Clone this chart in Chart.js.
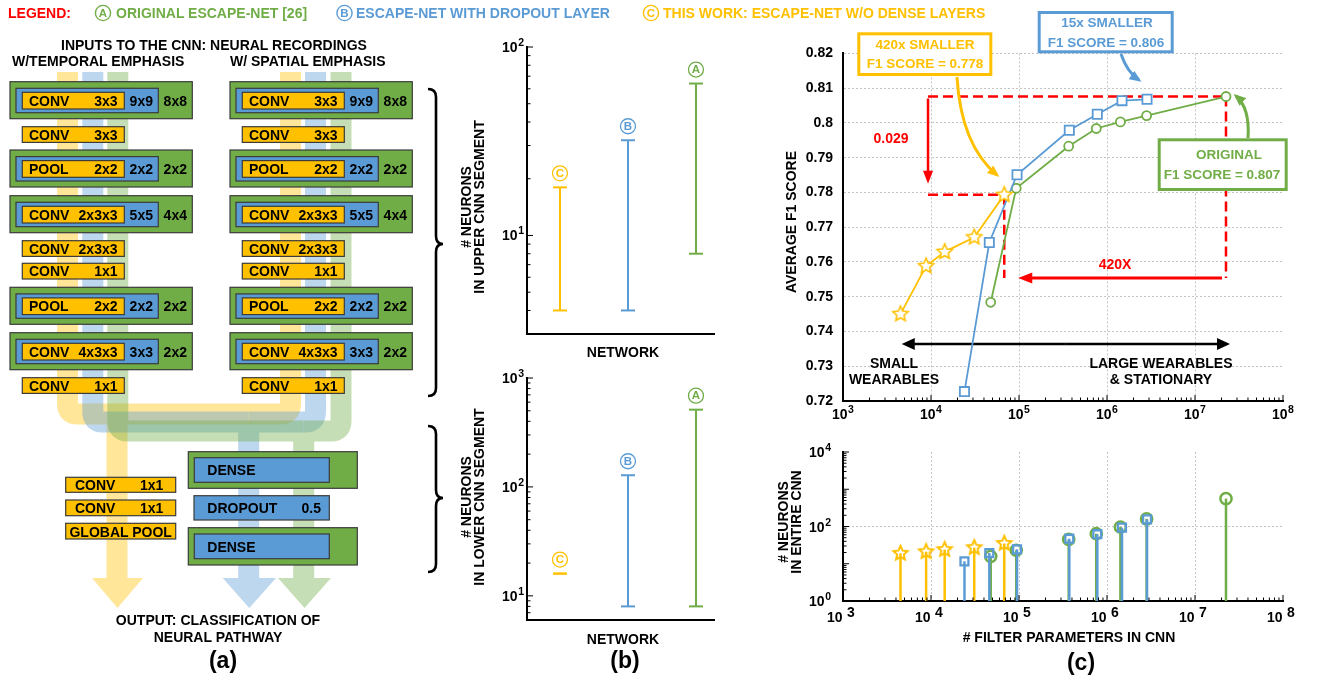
<!DOCTYPE html>
<html><head><meta charset="utf-8">
<script src="https://cdn.jsdelivr.net/npm/chart.js@4.4.0/dist/chart.umd.min.js"></script>
<style>
html,body{margin:0;padding:0;background:#fff;}
#wrap{position:relative;width:1333px;height:677px;overflow:hidden;background:#fff;}
.cv{position:absolute;}
#ov{position:absolute;left:0;top:0;pointer-events:none;}
</style></head>
<body><div id="wrap">
<canvas id="cUpper" class="cv" width="230" height="308" style="left:496px;top:36px"></canvas>
<canvas id="cLower" class="cv" width="230" height="262" style="left:496px;top:368px"></canvas>
<canvas id="cF1" class="cv" width="520" height="400" style="left:793px;top:35px"></canvas>
<canvas id="cNeu" class="cv" width="520" height="195" style="left:793px;top:440px"></canvas>
<svg id="ov" width="1333" height="677" xmlns="http://www.w3.org/2000/svg" font-family="'Liberation Sans', Arial, sans-serif"></svg>
</div>
<script>
// ---------------- DATA ----------------
// Panel (b): networks ordered C (this work), B (dropout), A (original)
const networks = ['C', 'B', 'A'];
const upperMin = [4, 4, 8];
const upperMax = [18, 32, 64];
const lowerMin = [16, 8, 8];
const lowerMax = [16, 128, 512];
const upperTickValues = [10, 100];
const upperTickExp = ['1', '2'];
const lowerTickValues = [10, 100, 1000];
const lowerTickExp = ['1', '2', '3'];

// Panel (c): filter parameters, average F1 score, neurons in entire CNN
const paramsThisWork = [4500, 8800, 14300, 31000, 68000];
const f1ThisWork     = [0.745, 0.7588, 0.7629, 0.7671, 0.7793];
const neuThisWork    = [19, 21, 24, 27, 35];
const paramsDropout  = [24000, 46000, 95000, 373000, 776000, 1480000, 2850000];
const f1Dropout      = [0.7227, 0.7656, 0.7851, 0.7979, 0.8025, 0.8064, 0.8068];
const neuDropout     = [11.6, 19.4, 24.4, 47, 62, 93, 155];
const paramsOriginal = [47700, 93000, 367000, 755000, 1420000, 2820000, 22500000];
const f1Original     = [0.7484, 0.7812, 0.7933, 0.7984, 0.8003, 0.8021, 0.8076];
const neuOriginal    = [15.8, 23, 45, 64, 97, 160, 560];

const xTickValues = [1e3, 1e4, 1e5, 1e6, 1e7, 1e8];
const xTickExp = ['3', '4', '5', '6', '7', '8'];
const yTickValuesNeu = [1, 100, 10000];
const yTickExpNeu = ['0', '2', '4'];

// annotation anchors (data space)
const annotDeltaX = 9250;
const annotArrowY = 0.7554;
const annotArrowTipX = 98000;
const rangeArrowY = 0.7364;
const rangeArrowX = [4650, 25000000];

// ---------------- STYLE ----------------
const YEL = '#FFC000', BLU = '#5B9BD5', GRN = '#70AD47', RED = '#FF0000';
const netColors = [YEL, BLU, GRN];
const FONT = "'Liberation Sans', Arial, sans-serif";
Chart.defaults.font.family = FONT;
Chart.defaults.color = '#000';

function starImage(R, lw, fill) {
  const s = Math.ceil(2 * R + 2 * lw + 2);
  const c = document.createElement('canvas'); c.width = s; c.height = s;
  const g = c.getContext('2d');
  g.translate(s / 2, s / 2);
  g.beginPath();
  for (let k = 0; k < 10; k++) {
    const r = k % 2 === 0 ? R : R * 0.47;
    const a = -Math.PI / 2 + k * Math.PI / 5;
    const px = r * Math.cos(a), py = r * Math.sin(a);
    if (k === 0) g.moveTo(px, py); else g.lineTo(px, py);
  }
  g.closePath();
  if (fill) { g.fillStyle = fill; g.fill(); }
  g.strokeStyle = YEL; g.lineWidth = lw; g.stroke();
  return c;
}

// minor / major log ticks drawn inside the plot
const logTicks = {
  id: 'logTicks',
  afterDraw(chart, args, opts) {
    const {ctx, chartArea: a} = chart;
    ctx.save(); ctx.strokeStyle = '#000'; ctx.lineWidth = 1;
    for (const id of (opts.axes || [])) {
      const s = chart.scales[id];
      const d0 = Math.floor(Math.log10(s.min)), d1 = Math.ceil(Math.log10(s.max));
      for (let d = d0; d <= d1; d++) for (let m = 1; m <= 9; m++) {
        const v = m * Math.pow(10, d);
        if (v < s.min * 0.999 || v > s.max * 1.001) continue;
        const p = s.getPixelForValue(v);
        const len = m === 1 ? 6 : 3.5;
        ctx.beginPath();
        if (s.isHorizontal()) { ctx.moveTo(p, a.bottom); ctx.lineTo(p, a.bottom - len); }
        else { ctx.moveTo(a.left, p); ctx.lineTo(a.left + len, p); }
        ctx.stroke();
      }
    }
    ctx.restore();
  }
};

// power-of-ten tick labels ("10" + raised exponent) placed through the scales
const expLabels = {
  id: 'expLabels',
  afterDraw(chart, args, opts) {
    const {ctx, chartArea: a} = chart;
    ctx.save(); ctx.fillStyle = '#000'; ctx.textBaseline = 'alphabetic'; ctx.textAlign = 'left';
    for (const ax of opts.axes) {
      const s = chart.scales[ax.id];
      ax.values.forEach((v, i) => {
        const exp = ax.exps[i];
        ctx.font = `bold 14px ${FONT}`; const wb = ctx.measureText('10').width;
        ctx.font = `bold ${ax.expSize}px ${FONT}`; const we = ctx.measureText(exp).width;
        const total = wb + ax.gap + we;
        const p = s.getPixelForValue(v);
        let x0, yb;
        if (s.isHorizontal()) { x0 = p - (ax.anchor != null ? ax.anchor : total / 2); yb = a.bottom + ax.offset; }
        else { x0 = a.left - ax.pad - total; yb = p + 5; }
        ctx.font = `bold 14px ${FONT}`; ctx.fillText('10', x0, yb);
        ctx.font = `bold ${ax.expSize}px ${FONT}`; ctx.fillText(exp, x0 + wb + ax.gap, yb - ax.raise);
      });
    }
    ctx.restore();
  }
};

// caps + circled letters on the range bars of panel (b)
const rangeCaps = {
  id: 'rangeCaps',
  afterDatasetsDraw(chart) {
    const {ctx} = chart;
    chart.data.datasets.forEach((ds, i) => {
      const meta = chart.getDatasetMeta(i);
      ctx.save();
      ctx.strokeStyle = ds.borderColor; ctx.lineWidth = 2;
      let top = Infinity;
      meta.data.forEach(pt => {
        ctx.beginPath(); ctx.moveTo(pt.x - 7, pt.y); ctx.lineTo(pt.x + 7, pt.y); ctx.stroke();
        top = Math.min(top, pt.y);
      });
      const cx = meta.data[0].x, cy = top - 14;
      ctx.lineWidth = 1.3;
      ctx.beginPath(); ctx.arc(cx, cy, 7.5, 0, Math.PI * 2); ctx.stroke();
      ctx.fillStyle = ds.borderColor;
      ctx.font = `bold 11.5px ${FONT}`; ctx.textAlign = 'center'; ctx.textBaseline = 'middle';
      ctx.fillText(ds.label, cx, cy + 0.5);
      ctx.restore();
    });
  }
};

function rangeChart(id, mins, maxs, ymin, ymax, tv, te, padTop) {
  new Chart(document.getElementById(id), {
    type: 'scatter',
    data: {
      datasets: networks.map((n, i) => ({
        label: n,
        data: [{x: i + 1, y: mins[i]}, {x: i + 1, y: maxs[i]}],
        showLine: true, borderColor: netColors[i], borderWidth: 2, pointRadius: 0
      }))
    },
    options: {
      responsive: false, animation: false,
      layout: {padding: {top: padTop, right: 12, left: 0, bottom: 0}},
      plugins: {legend: {display: false}, tooltip: {enabled: false}, logTicks: {axes: ['y']},
        expLabels: {axes: [{id: 'y', values: tv, exps: te, expSize: 10.5, gap: 0.5, raise: 6, pad: 3}]}},
      scales: {
        x: {type: 'linear', min: 0.515, max: 3.265, ticks: {display: false}, grid: {display: false},
            border: {color: '#000', width: 2}, afterFit: s => { s.height = 10; }},
        y: {type: 'logarithmic', min: ymin, max: ymax,
            afterBuildTicks: s => { s.ticks = tv.map(v => ({value: v})); },
            ticks: {display: false},
            grid: {display: false, drawTicks: false}, border: {color: '#000', width: 2},
            afterFit: s => { s.width = 31; }}
      }
    },
    plugins: [logTicks, rangeCaps, expLabels]
  });
}
rangeChart('cUpper', upperMin, upperMax, 3, 100, upperTickValues, upperTickExp, 11);
rangeChart('cLower', lowerMin, lowerMax, 6, 1000, lowerTickValues, lowerTickExp, 10);

// ---------- panel (c) top ----------
function arrow(ctx, x1, y1, x2, y2, color, lw, hl, hw) {
  const dx = x2 - x1, dy = y2 - y1, L = Math.hypot(dx, dy), ux = dx / L, uy = dy / L;
  ctx.strokeStyle = color; ctx.fillStyle = color; ctx.lineWidth = lw;
  ctx.beginPath(); ctx.moveTo(x1, y1); ctx.lineTo(x2 - ux * hl * 0.8, y2 - uy * hl * 0.8); ctx.stroke();
  ctx.beginPath(); ctx.moveTo(x2, y2);
  ctx.lineTo(x2 - ux * hl - uy * hw, y2 - uy * hl + ux * hw);
  ctx.lineTo(x2 - ux * hl + uy * hw, y2 - uy * hl - ux * hw);
  ctx.closePath(); ctx.fill();
}
const f1Annot = {
  id: 'f1Annot',
  beforeDatasetsDraw(chart) {
    const {ctx, scales: {x, y}} = chart;
    const n = paramsOriginal.length - 1, m = paramsThisWork.length - 1;
    const xo = x.getPixelForValue(paramsOriginal[n]), yo = y.getPixelForValue(f1Original[n]);
    const xt = x.getPixelForValue(paramsThisWork[m]), yt = y.getPixelForValue(f1ThisWork[m]);
    const xl = x.getPixelForValue(annotDeltaX), ya = y.getPixelForValue(annotArrowY);
    ctx.save();
    ctx.strokeStyle = RED; ctx.lineWidth = 2.5; ctx.setLineDash([10, 5]);
    const ln = (a, b, c, d) => { ctx.beginPath(); ctx.moveTo(a, b); ctx.lineTo(c, d); ctx.stroke(); };
    ln(xl, yo, xo, yo); ln(xo, yo, xo, ya); ln(xl, yt, xt, yt); ln(xt, yt, xt, ya);
    ctx.setLineDash([]);
    arrow(ctx, xl, yo + 2, xl, yt - 11, RED, 2.5, 13, 5);
    arrow(ctx, xo - 4, ya, x.getPixelForValue(annotArrowTipX), ya, RED, 3, 14, 5.5);
    const yb = y.getPixelForValue(rangeArrowY);
    const xa = x.getPixelForValue(rangeArrowX[0]), xb = x.getPixelForValue(rangeArrowX[1]);
    const mid = (xa + xb) / 2;
    arrow(ctx, mid, yb, xa, yb, '#000', 2.5, 13, 6);
    arrow(ctx, mid, yb, xb, yb, '#000', 2.5, 13, 6);
    ctx.restore();
  }
};
const pts = (xs, ys) => xs.map((v, i) => ({x: v, y: ys[i]}));
const logX = () => ({
  type: 'logarithmic', min: 1e3, max: 1e8,
  afterBuildTicks: s => { s.ticks = xTickValues.map(v => ({value: v})); },
  ticks: {display: false},
  grid: {color: c => (c.index > 0 && c.index < 5) ? '#c4c4c4' : 'rgba(0,0,0,0)', drawTicks: false, lineWidth: 1},
  border: {color: '#000', width: 2, dash: [2, 2]},
  afterFit: s => { s.height = 34; }
});
new Chart(document.getElementById('cF1'), {
  type: 'line',
  data: {datasets: [
    {label: 'This work', data: pts(paramsThisWork, f1ThisWork), borderColor: YEL, borderWidth: 1.8,
     pointStyle: starImage(8, 1.6, '#fff'), pointRadius: 8},
    {label: 'Dropout', data: pts(paramsDropout, f1Dropout), borderColor: BLU, borderWidth: 1.8,
     pointStyle: 'rect', pointRadius: 6.5, pointBorderWidth: 1.8, pointBackgroundColor: '#fff', pointBorderColor: BLU},
    {label: 'Original', data: pts(paramsOriginal, f1Original), borderColor: GRN, borderWidth: 1.8,
     pointStyle: 'circle', pointRadius: 4.5, pointBorderWidth: 1.8, pointBackgroundColor: '#fff', pointBorderColor: GRN}
  ]},
  options: {
    responsive: false, animation: false,
    layout: {padding: {top: 10, right: 30, left: 0, bottom: 0}},
    plugins: {legend: {display: false}, tooltip: {enabled: false}, logTicks: {axes: ['x']},
      expLabels: {axes: [{id: 'x', values: xTickValues, exps: xTickExp, expSize: 10.5, gap: 0.5, raise: 6, offset: 18}]}},
    scales: {
      x: logX(),
      y: {min: 0.72, max: 0.82,
          ticks: {stepSize: 0.01, callback: v => String(+v.toFixed(2)), padding: 10, font: {family: FONT, size: 14, weight: 'bold'}},
          grid: {color: c => c.index > 0 ? '#c4c4c4' : 'rgba(0,0,0,0)', drawTicks: false, lineWidth: 1},
          border: {color: '#000', width: 2, dash: [2, 2]},
          afterFit: s => { s.width = 50; }}
    }
  },
  plugins: [logTicks, f1Annot, expLabels]
});

// ---------- panel (c) bottom ----------
const stems = {
  id: 'stems',
  beforeDatasetDraw(chart, args) {
    const {ctx, chartArea: a} = chart;
    const ds = chart.data.datasets[args.index];
    ctx.save(); ctx.strokeStyle = ds.borderColor; ctx.lineWidth = 2.5;
    args.meta.data.forEach(pt => { ctx.beginPath(); ctx.moveTo(pt.x, a.bottom); ctx.lineTo(pt.x, pt.y); ctx.stroke(); });
    ctx.restore();
  }
};
new Chart(document.getElementById('cNeu'), {
  type: 'scatter',
  data: {datasets: [
    {label: 'This work', data: pts(paramsThisWork, neuThisWork), borderColor: YEL,
     pointStyle: starImage(7.5, 2, null), pointRadius: 8},
    {label: 'Dropout', data: pts(paramsDropout, neuDropout), borderColor: BLU,
     pointStyle: 'rect', pointRadius: 5.6, pointBorderWidth: 2.3, pointBackgroundColor: 'rgba(0,0,0,0)', pointBorderColor: BLU},
    {label: 'Original', data: pts(paramsOriginal, neuOriginal), borderColor: GRN,
     pointStyle: 'circle', pointRadius: 5.6, pointBorderWidth: 2.5, pointBackgroundColor: 'rgba(0,0,0,0)', pointBorderColor: GRN}
  ]},
  options: {
    responsive: false, animation: false,
    layout: {padding: {top: 12, right: 30, left: 0, bottom: 0}},
    plugins: {legend: {display: false}, tooltip: {enabled: false}, logTicks: {axes: ['x', 'y']},
      expLabels: {axes: [
        {id: 'x', values: xTickValues, exps: xTickExp, expSize: 14, gap: 4.5, raise: 5, offset: 21, anchor: 16},
        {id: 'y', values: yTickValuesNeu, exps: yTickExpNeu, expSize: 10.5, gap: 0.5, raise: 6, pad: 12}
      ]}},
    scales: {
      x: logX(),
      y: {type: 'logarithmic', min: 1, max: 10000,
          afterBuildTicks: s => { s.ticks = yTickValuesNeu.map(v => ({value: v})); },
          ticks: {display: false},
          grid: {color: c => c.index === 1 ? '#c4c4c4' : 'rgba(0,0,0,0)', drawTicks: false, lineWidth: 1},
          border: {color: '#000', width: 2, dash: [2, 2]},
          afterFit: s => { s.width = 50; }}
    }
  },
  plugins: [stems, logTicks, expLabels]
});

// ---------------- SVG overlay: diagram (a), legend, titles, annotations ----------------
let S = '';
const T = (x, y, txt, o = {}) => {
  S += `<text x="${x}" y="${y}" font-size="${o.size || 14}" fill="${o.fill || '#000'}" text-anchor="${o.anchor || 'start'}" font-weight="${o.weight || 'bold'}"${o.tr ? ` transform="${o.tr}"` : ''}>${txt}</text>`;
};
const R = (x, y, w, h, fill, stroke = '#3b3b3b', sw = 1.2) => {
  S += `<rect x="${x}" y="${y}" width="${w}" height="${h}" fill="${fill}" stroke="${stroke}" stroke-width="${sw}"/>`;
};
const circLetter = (cx, cy, L, col) => {
  S += `<circle cx="${cx}" cy="${cy}" r="7.6" fill="none" stroke="${col}" stroke-width="1.4"/>`;
  T(cx, cy + 4.2, L, {size: 11.5, fill: col, anchor: 'middle'});
};
S += `<defs>
<marker id="mY" markerWidth="12" markerHeight="10" refX="9" refY="5" orient="auto" markerUnits="userSpaceOnUse"><path d="M0,0 L12,5 L0,10 Z" fill="${YEL}"/></marker>
<marker id="mB" markerWidth="12" markerHeight="10" refX="9" refY="5" orient="auto" markerUnits="userSpaceOnUse"><path d="M0,0 L12,5 L0,10 Z" fill="${BLU}"/></marker>
<marker id="mG" markerWidth="12" markerHeight="10" refX="9" refY="5" orient="auto" markerUnits="userSpaceOnUse"><path d="M0,0 L12,5 L0,10 Z" fill="${GRN}"/></marker>
</defs>`;

// legend
T(8, 18, 'LEGEND:', {fill: RED});
circLetter(103, 13, 'A', GRN); T(116, 18, 'ORIGINAL ESCAPE-NET [26]', {fill: GRN});
circLetter(344.5, 13, 'B', BLU); T(356, 18, 'ESCAPE-NET WITH DROPOUT LAYER', {fill: BLU});
circLetter(651, 13, 'C', YEL); T(663, 18, 'THIS WORK: ESCAPE-NET W/O DENSE LAYERS', {fill: YEL});

// panel (a) headings
T(214, 50, 'INPUTS TO THE CNN: NEURAL RECORDINGS', {anchor: 'middle'});
T(12, 66, 'W/TEMPORAL EMPHASIS');
T(230, 66, 'W/ SPATIAL EMPHASIS');

// flow bands
const band = (col, paths, head) => {
  S += `<g opacity="0.4">`;
  paths.forEach(d => { S += `<path d="${d}" fill="none" stroke="${col}" stroke-width="21"/>`; });
  S += `<polygon points="${head}" fill="${col}"/></g>`;
};
band(YEL, ['M67.5,72 V404 Q67.5,414 77.5,414 H117', 'M290.5,72 V404 Q290.5,414 280.5,414 H117', 'M117,414 V579'],
     '92,578 143,578 117.5,608');
band(BLU, ['M92.8,72 V412 Q92.8,422 102.8,422 H248.7', 'M315.5,72 V412 Q315.5,422 305.5,422 H248.7', 'M248.7,422 V579'],
     '222.7,578 276,578 249.3,608');
band(GRN, ['M117.8,72 V421 Q117.8,431 127.8,431 H303.7', 'M341,72 V421 Q341,431 331,431 H303.7', 'M303.7,431 V579'],
     '278,578 331,578 304.5,608');

// CNN blocks
const tripleRows = [[81.7, 'CONV', '3x3', '9x9', '8x8'], [150, 'POOL', '2x2', '2x2', '2x2'],
  [195.7, 'CONV', '2x3x3', '5x5', '4x4'], [287.3, 'POOL', '2x2', '2x2', '2x2'], [332.7, 'CONV', '4x3x3', '3x3', '2x2']];
const singleRows = [[126.7, 'CONV', '3x3'], [240.7, 'CONV', '2x3x3'], [263.3, 'CONV', '1x1'], [377.7, 'CONV', '1x1']];
for (const off of [0, 220]) {
  for (const [gy, a, b, c, d] of tripleRows) {
    R(10 + off, gy, 182.3, 37, GRN);
    R(16 + off, gy + 6.6, 142.3, 24.4, BLU);
    R(22.3 + off, gy + 10.6, 102, 16.7, YEL);
    T(29 + off, gy + 24, a); T(117.5 + off, gy + 24, b, {anchor: 'end'});
    T(141.3 + off, gy + 24, c, {anchor: 'middle'}); T(175.3 + off, gy + 24, d, {anchor: 'middle'});
  }
  for (const [y, a, b] of singleRows) {
    R(22.3 + off, y, 102, 15.7, YEL);
    T(29 + off, y + 12.9, a); T(117.5 + off, y + 12.9, b, {anchor: 'end'});
  }
}
// lower blocks
R(188.3, 451.7, 169, 36.6, GRN); R(194.3, 457.7, 135, 24.6, BLU); T(207.3, 475, 'DENSE');
R(194, 495.7, 135.3, 24.3, BLU); T(207.3, 513, 'DROPOUT'); T(321, 513, '0.5', {anchor: 'end'});
R(188.3, 527.7, 169, 37.3, GRN); R(194.3, 534, 135, 24.7, BLU); T(207.3, 551.7, 'DENSE');
R(65.7, 477.3, 110, 15, YEL); T(75, 490, 'CONV'); T(163.3, 490, '1x1', {anchor: 'end'});
R(65.7, 500, 110, 15.7, YEL); T(75, 513, 'CONV'); T(163.3, 513, '1x1', {anchor: 'end'});
R(65.7, 523.3, 110, 15.7, YEL); T(120.7, 536.7, 'GLOBAL POOL', {anchor: 'middle'});
T(218, 625, 'OUTPUT: CLASSIFICATION OF', {anchor: 'middle'});
T(218, 642, 'NEURAL PATHWAY', {anchor: 'middle'});
T(223, 668, '(a)', {anchor: 'middle', size: 23});

// braces
S += `<path d="M428,89 Q436,89 436,97 L436,236 Q436,244 443,244 Q436,244 436,252 L436,388 Q436,396 428,396" fill="none" stroke="#000" stroke-width="2.6"/>`;
S += `<path d="M428,426 Q436,426 436,434 L436,490 Q436,498 443,498 Q436,498 436,506 L436,564 Q436,572 428,572" fill="none" stroke="#000" stroke-width="2.6"/>`;

// panel (b) titles
T(0, 0, '# NEURONS', {anchor: 'middle', tr: 'translate(471,207) rotate(-90)'});
T(0, 0, 'IN UPPER CNN SEGMENT', {anchor: 'middle', tr: 'translate(484,207) rotate(-90)'});
T(0, 0, '# NEURONS', {anchor: 'middle', tr: 'translate(471,497) rotate(-90)'});
T(0, 0, 'IN LOWER CNN SEGMENT', {anchor: 'middle', tr: 'translate(484,497) rotate(-90)'});
T(623, 357, 'NETWORK', {anchor: 'middle'});
T(623, 644, 'NETWORK', {anchor: 'middle'});
T(625, 668, '(b)', {anchor: 'middle', size: 23});

// panel (c) titles
T(0, 0, 'AVERAGE F1 SCORE', {anchor: 'middle', tr: 'translate(796,222) rotate(-90)'});
T(0, 0, '# NEURONS', {anchor: 'middle', tr: 'translate(788,522) rotate(-90)'});
T(0, 0, 'IN ENTIRE CNN', {anchor: 'middle', tr: 'translate(801,522) rotate(-90)'});
T(1069, 642, '# FILTER PARAMETERS IN CNN', {anchor: 'middle'});
T(1081, 670, '(c)', {anchor: 'middle', size: 23});

// annotations (c)
T(891, 143, '0.029', {fill: RED, anchor: 'middle'});
T(1115, 269, '420X', {fill: RED, anchor: 'middle'});
T(894, 368, 'SMALL', {anchor: 'middle'}); T(894, 384, 'WEARABLES', {anchor: 'middle'});
T(1161, 368, 'LARGE WEARABLES', {anchor: 'middle'}); T(1161, 384, '&amp; STATIONARY', {anchor: 'middle'});

S += `<path d="M957,77 Q961,145 997,175" fill="none" stroke="${YEL}" stroke-width="3" marker-end="url(#mY)"/>`;
S += `<path d="M1121,54 Q1127,72 1139,80" fill="none" stroke="${BLU}" stroke-width="3" marker-end="url(#mB)"/>`;
S += `<path d="M1248,138 Q1250,108 1236,96" fill="none" stroke="${GRN}" stroke-width="3" marker-end="url(#mG)"/>`;
R(858.8, 33.8, 132, 40.7, '#fff', YEL, 3);
T(925, 48.5, '420x SMALLER', {fill: YEL, anchor: 'middle', size: 13.5});
T(925, 68, 'F1 SCORE = 0.778', {fill: YEL, anchor: 'middle', size: 13.5});
R(1039.2, 12.5, 133, 39.3, '#fff', BLU, 3);
T(1107, 27, '15x SMALLER', {fill: BLU, anchor: 'middle', size: 13.5});
T(1106, 47, 'F1 SCORE = 0.806', {fill: BLU, anchor: 'middle', size: 13.5});
R(1159.2, 139.8, 127, 49.7, '#fff', GRN, 3);
T(1229, 159, 'ORIGINAL', {fill: GRN, anchor: 'middle', size: 13.5});
T(1222, 178.5, 'F1 SCORE = 0.807', {fill: GRN, anchor: 'middle', size: 13.5});

document.getElementById('ov').innerHTML = S;
</script>
</body></html>
